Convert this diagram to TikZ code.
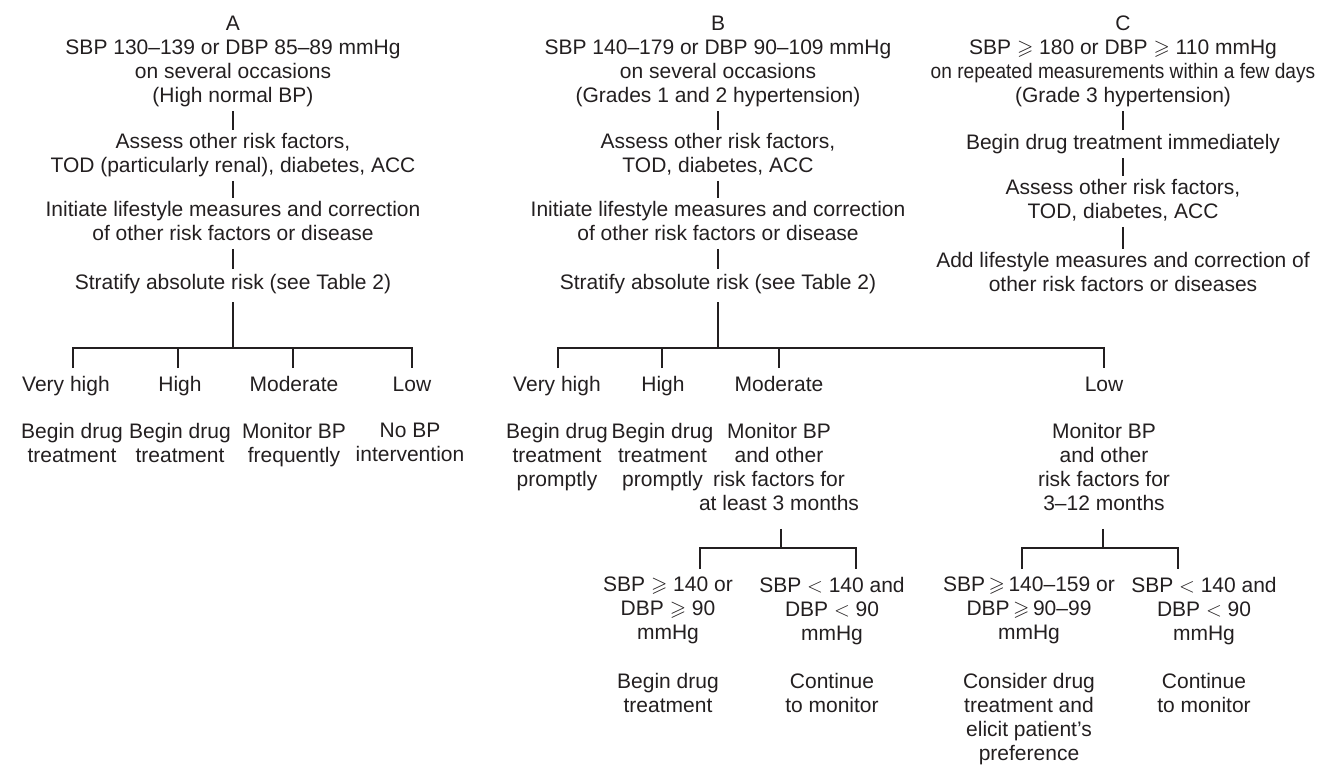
\documentclass[tikz,border=0pt]{standalone}
\usepackage{amssymb}
\usepackage{fontspec}
\setmainfont{Liberation Sans}
\definecolor{ink}{RGB}{35,31,32}
\newcommand{\fs}{\fontsize{21}{24}\selectfont}
\newcommand{\gsl}{$\geqslant$}
\begin{document}
\begin{tikzpicture}[x=1pt,y=-1pt,
  txt/.style={anchor=north,inner sep=0pt,align=center,font=\fs,text=ink,
    execute at begin node=\strut, execute at end node=\strut},
  conn/.style={draw=ink,line width=1.5pt,shorten >=3pt,shorten <=1pt},
  tree/.style={draw=ink,line width=1.5pt}]
\path[use as bounding box] (0,0) rectangle (1328,765);

% ---------- Column A ----------
\node[txt] (tA) at (233,16) {A\\SBP 130–139 or DBP 85–89 mmHg\\on several occasions\\(High normal BP)};
\node[txt] (aA) at (233,133) {Assess other risk factors,\\TOD (particularly renal), diabetes, ACC};
\node[txt] (iA) at (233,201) {Initiate lifestyle measures and correction\\of other risk factors or disease};
\node[txt] (sA) at (233,272) {Stratify absolute risk (see Table 2)};
\draw[conn] (tA.south) -- (aA.north);
\draw[conn] (aA.south) -- (iA.north);
\draw[conn] (iA.south) -- (sA.north);

\node[txt] (vhA) at (66,374) {Very high};
\node[txt] (hA) at (180,374) {High};
\node[txt] (mA) at (294,374) {Moderate};
\node[txt] (lA) at (412,374) {Low};
\node[txt] (xA1) at (72,423) {Begin drug\\treatment};
\node[txt] (xA2) at (180,423) {Begin drug\\treatment};
\node[txt] (xA3) at (294,423) {Monitor BP\\frequently};
\node[txt] (xA4) at (410,423) {No BP\\intervention};

\coordinate (bA) at (233,348);
\coordinate (dA1) at (73,368);
\coordinate (dA2) at (178,368);
\coordinate (dA3) at (293,368);
\coordinate (dA4) at (412,368);
\draw[tree] (sA.south) ++(0,6) -- (bA);
\draw[tree] (dA1) |- (bA) -| (dA4);
\draw[tree] (dA2) -- (dA2 |- bA);
\draw[tree] (dA3) -- (dA3 |- bA);

% ---------- Column B ----------
\node[txt] (tB) at (718,16) {B\\SBP 140–179 or DBP 90–109 mmHg\\on several occasions\\(Grades 1 and 2 hypertension)};
\node[txt] (aB) at (718,133) {Assess other risk factors,\\TOD, diabetes, ACC};
\node[txt] (iB) at (718,201) {Initiate lifestyle measures and correction\\of other risk factors or disease};
\node[txt] (sB) at (718,272) {Stratify absolute risk (see Table 2)};
\draw[conn] (tB.south) -- (aB.north);
\draw[conn] (aB.south) -- (iB.north);
\draw[conn] (iB.south) -- (sB.north);

\node[txt] (vhB) at (557,374) {Very high};
\node[txt] (hB) at (663,374) {High};
\node[txt] (mB) at (779,374) {Moderate};
\node[txt] (lB) at (1104,374) {Low};
\node[txt] (xB1) at (557,423) {Begin drug\\treatment\\promptly};
\node[txt] (xB2) at (662.5,423) {Begin drug\\treatment\\promptly};
\node[txt] (xB3) at (779,423) {Monitor BP\\and other\\risk factors for\\at least 3 months};
\node[txt] (xB4) at (1104,423) {Monitor BP\\and other\\risk factors for\\3–12 months};

\coordinate (bB) at (718,348);
\coordinate (dB1) at (558,368);
\coordinate (dB2) at (662,368);
\coordinate (dB3) at (779,368);
\coordinate (dB4) at (1104,368);
\draw[tree] (sB.south) ++(0,6) -- (bB);
\draw[tree] (dB1) |- (bB) -| (dB4);
\draw[tree] (dB2) -- (dB2 |- bB);
\draw[tree] (dB3) -- (dB3 |- bB);

% moderate sub-branch
\node[txt] (cM1) at (668,577) {SBP \gsl\ 140 or\\DBP \gsl\ 90\\mmHg};
\node[txt] (cM2) at (832,577) {SBP $<$ 140 and\\DBP $<$ 90\\mmHg};
\node[txt] (rM1) at (668,673) {Begin drug\\treatment};
\node[txt] (rM2) at (832,673) {Continue\\to monitor};
\coordinate (bM) at (781,548);
\coordinate (dM1) at (700,569);
\coordinate (dM2) at (856,569);
\draw[tree] (xB3.south -| bM) ++(0,11) -- (bM);
\draw[tree] (dM1) |- (bM) -| (dM2);

% low sub-branch
\node[txt] (cL1) at (1029,577) {SBP\,\gsl\,140–159 or\\DBP\,\gsl\,90–99\\mmHg};
\node[txt] (cL2) at (1204,577) {SBP $<$ 140 and\\DBP $<$ 90\\mmHg};
\node[txt] (rL1) at (1029,673) {Consider drug\\treatment and\\elicit patient’s\\preference};
\node[txt] (rL2) at (1204,673) {Continue\\to monitor};
\coordinate (bL) at (1103,548);
\coordinate (dL1) at (1022,569);
\coordinate (dL2) at (1178,569);
\draw[tree] (xB4.south -| bL) ++(0,11) -- (bL);
\draw[tree] (dL1) |- (bL) -| (dL2);

% ---------- Column C ----------
\node[txt] (tC) at (1123,16) {C\\SBP \gsl\ 180 or DBP \gsl\ 110 mmHg\\\scalebox{0.91}[1]{on repeated measurements within a few days}\\(Grade 3 hypertension)};
\node[txt] (bC) at (1123,133) {Begin drug treatment immediately};
\node[txt] (aC) at (1123,179) {Assess other risk factors,\\TOD, diabetes, ACC};
\node[txt] (dC) at (1123,252) {Add lifestyle measures and correction of\\other risk factors or diseases};
\draw[conn] (tC.south) -- (bC.north);
\draw[conn] (bC.south) -- (aC.north);
\draw[conn] (aC.south) -- (dC.north);
\end{tikzpicture}
\end{document}
